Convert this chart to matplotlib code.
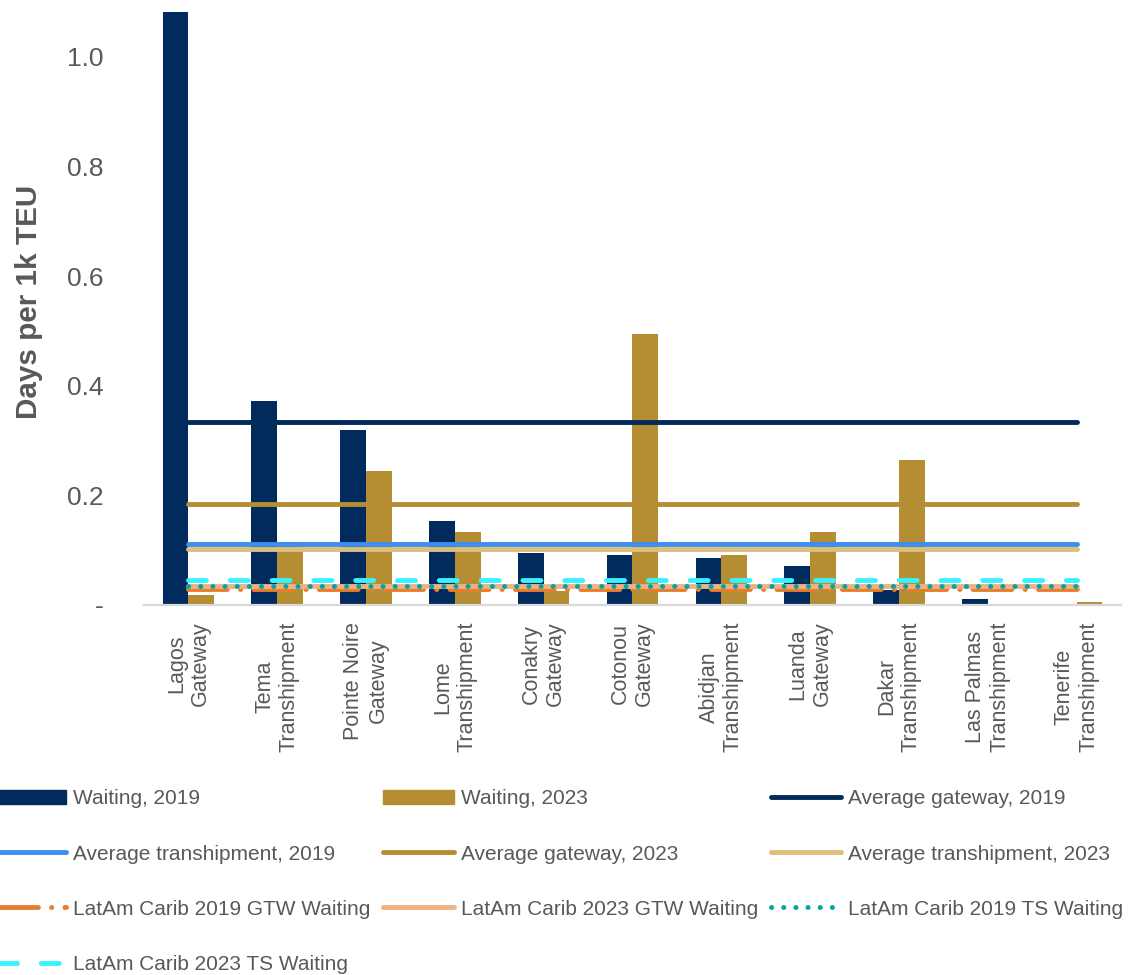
import matplotlib
matplotlib.use("Agg")
import matplotlib.pyplot as plt
import numpy as np
from matplotlib.patches import Patch

# ---------------- data ----------------
categories = ["Lagos\nGateway", "Tema\nTranshipment", "Pointe Noire\nGateway",
              "Lome\nTranshipment", "Conakry\nGateway", "Cotonou\nGateway",
              "Abidjan\nTranshipment", "Luanda\nGateway", "Dakar\nTranshipment",
              "Las Palmas\nTranshipment", "Tenerife\nTranshipment"]
waiting_2019 = [1.09, 0.373, 0.320, 0.154, 0.095, 0.091, 0.086, 0.071, 0.027, 0.011, 0.0]
waiting_2023 = [0.018, 0.115, 0.245, 0.133, 0.026, 0.494, 0.091, 0.133, 0.264, 0.0, 0.005]
avg_gateway_2019 = 0.334
avg_tranship_2019 = 0.111
avg_gateway_2023 = 0.184
avg_tranship_2023 = 0.102
latam_2019_gtw = 0.029
latam_2023_gtw = 0.034
latam_2019_ts = 0.034
latam_2023_ts = 0.046
ytick_vals = [0, 0.2, 0.4, 0.6, 0.8, 1.0]
ytick_labels = ["-", "0.2", "0.4", "0.6", "0.8", "1.0"]

# ---------------- style ----------------
NAVY = "#002B5C"
GOLD = "#B58D32"
BLUE = "#3C8FF0"
TAN = "#DDBF7A"
ORANGE = "#E87D2B"
LORANGE = "#F0B283"
TEAL = "#00A5A8"
CYAN = "#38F3FF"
TXT = "#595959"

REG = ["Liberation Sans", "DejaVu Sans"]

fig = plt.figure(figsize=(11.3, 9.75), dpi=100)
ax = fig.add_axes([0.1274, 0.3795, 0.8646, 0.6082])

x = np.arange(len(categories))
bw = 0.29
ax.bar(x - bw / 2, waiting_2019, width=bw, color=NAVY, zorder=2)
ax.bar(x + bw / 2, waiting_2023, width=bw, color=GOLD, zorder=2)

lw = 3.5
xs = [x[0], x[-1]]
def hline(val, **kw):
    return ax.plot(xs, [val, val], lw=lw, solid_capstyle="round", dash_capstyle="round",
                   zorder=3, **kw)[0]

l_g19 = hline(avg_gateway_2019, color=NAVY)
l_t19 = hline(avg_tranship_2019, color=BLUE)
l_g23 = hline(avg_gateway_2023, color=GOLD)
l_t23 = hline(avg_tranship_2023, color=TAN)
l_lg19 = hline(latam_2019_gtw, color=ORANGE, dashes=(8, 2.7, 0.05, 2.7))
l_lg23 = hline(latam_2023_gtw, color=LORANGE)
l_lt19 = hline(latam_2019_ts, color=TEAL, dashes=(0.05, 2.45))
l_lt23 = hline(latam_2023_ts, color=CYAN, dashes=(3.7, 4.9))

ax.set_xlim(-0.5, len(categories) - 0.5)
ax.set_ylim(0, 1.082)
ax.set_yticks(ytick_vals)
ax.set_yticklabels(ytick_labels, family=REG, fontsize=19, color=TXT)
ax.tick_params(axis="y", length=0, pad=29)
ax.set_xticks(x)
ax.set_xticklabels(categories, rotation=90, family=REG, fontsize=15.5, color=TXT,
                   ha="center", va="top", multialignment="center")
ax.tick_params(axis="x", length=0, pad=12)
for s in ["top", "right", "left"]:
    ax.spines[s].set_visible(False)
ax.spines["bottom"].set_color("#D9D9D9")
ax.spines["bottom"].set_linewidth(1.6)

fig.text(0.026, 0.690, "Days per 1k TEU", rotation=90, ha="center", va="center",
         family=REG, fontweight="bold", fontsize=21.3, color=TXT)

# row-major legend order (matplotlib fills column by column: 4, 3, 3)
entries = [
    (Patch(color=NAVY), "Waiting, 2019"),
    (l_t19, "Average transhipment, 2019"),
    (l_lg19, "LatAm Carib 2019 GTW Waiting"),
    (l_lt23, "LatAm Carib 2023 TS Waiting"),
    (Patch(color=GOLD), "Waiting, 2023"),
    (l_g23, "Average gateway, 2023"),
    (l_lg23, "LatAm Carib 2023 GTW Waiting"),
    (l_g19, "Average gateway, 2019"),
    (l_t23, "Average transhipment, 2023"),
    (l_lt19, "LatAm Carib 2019 TS Waiting"),
]
leg = fig.legend([e[0] for e in entries], [e[1] for e in entries], ncol=3,
                 loc="upper left", bbox_to_anchor=(-0.004, 0.1905),
                 frameon=False, borderpad=0, borderaxespad=0,
                 prop={"family": REG, "size": 15.0},
                 handlelength=3.4, handletextpad=0.33, columnspacing=0.6,
                 labelspacing=1.74)
for t in leg.get_texts():
    t.set_color(TXT)

fig.savefig("out.png", dpi=100)
